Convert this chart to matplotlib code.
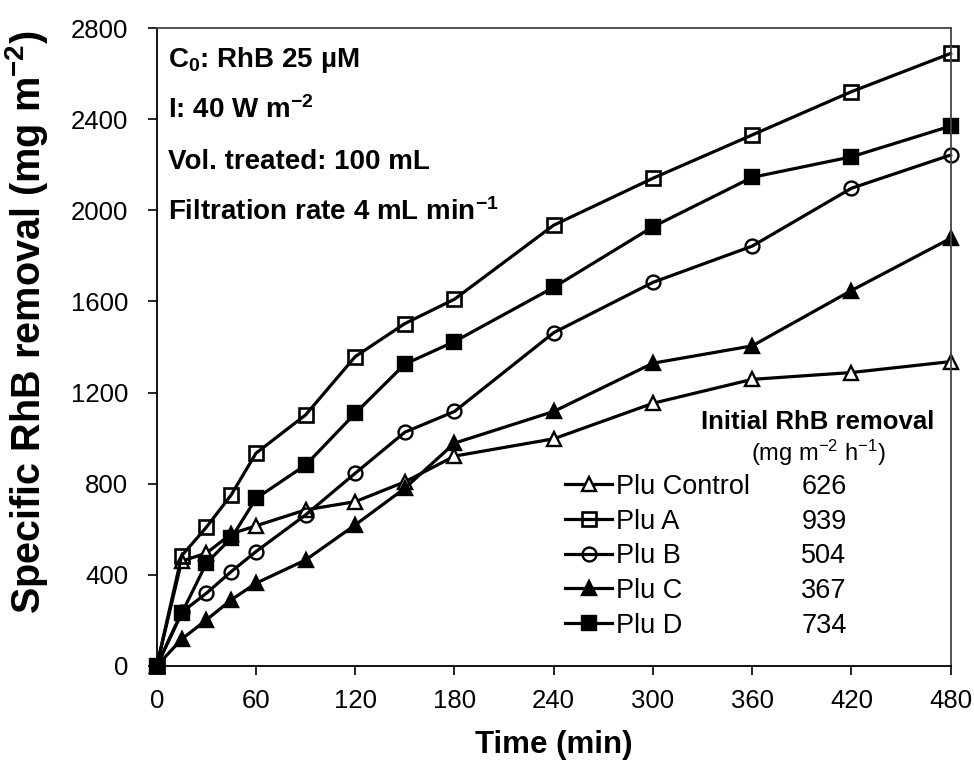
import numpy as np
import matplotlib
matplotlib.use("Agg")
import matplotlib.pyplot as plt

plt.rcParams['font.family'] = ['Liberation Sans', 'DejaVu Sans']
plt.rcParams['mathtext.fontset'] = 'custom'
plt.rcParams['mathtext.rm'] = 'Liberation Sans'
plt.rcParams['mathtext.bf'] = 'Liberation Sans:bold'
plt.rcParams['mathtext.it'] = 'Liberation Sans:italic'

# Czas [min]
time = [0, 15, 30, 45, 60, 90, 120, 150, 180, 240, 300, 360, 420, 480]

# Usuwanie RhB [mg m-2]
plu_control = [0, 460, 495, 580, 615, 685, 721, 808, 921, 997, 1153, 1258, 1288, 1336]
plu_a = [0, 483, 609, 751, 934, 1102, 1358, 1503, 1610, 1935, 2141, 2331, 2521, 2689]
plu_b = [0, 235, 319, 414, 502, 663, 846, 1026, 1117, 1463, 1684, 1843, 2097, 2243]
plu_c = [0, 117, 202, 290, 363, 465, 619, 780, 978, 1117, 1329, 1405, 1648, 1877]
plu_d = [0, 230, 451, 561, 735, 882, 1109, 1325, 1424, 1662, 1928, 2145, 2235, 2370]

labels = ["Plu Control", "Plu A", "Plu B", "Plu C", "Plu D"]
initial_rates = ["626", "939", "504", "367", "734"]

fig = plt.figure(figsize=(9.74, 7.61), dpi=100)
ax = fig.add_axes([0.161, 0.125, 0.815, 0.838])

lw = 2.3
ax.plot(time, plu_control, color='black', lw=lw, marker='^', ms=10.5, mfc='white',
        mec='black', mew=1.7, label=labels[0], clip_on=False)
ax.plot(time, plu_a, color='black', lw=lw, marker='s', ms=10, mfc='none',
        mec='black', mew=1.9, label=labels[1], clip_on=False)
ax.plot(time, plu_b, color='black', lw=lw, marker='o', ms=10, mfc='none',
        mec='black', mew=1.7, label=labels[2], clip_on=False)
ax.plot(time, plu_c, color='black', lw=lw, marker='^', ms=10.5, mfc='black',
        mec='black', mew=1.7, label=labels[3], clip_on=False)
ax.plot(time, plu_d, color='black', lw=lw, marker='s', ms=10.5, mfc='black',
        mec='black', mew=1.7, label=labels[4], clip_on=False)

ax.set_xlim(0, 480)
ax.set_ylim(0, 2800)
ax.set_xticks(np.arange(0, 481, 60))
ax.set_yticks(np.arange(0, 2801, 400))
ax.tick_params(direction='out', length=6.5, width=1.2, labelsize=18.5, color='black')
ax.tick_params(axis='x', pad=10.5)
ax.tick_params(axis='y', pad=14)
for side in ['left', 'bottom']:
    ax.spines[side].set_linewidth(1.3)
for side in ['top', 'right']:
    ax.spines[side].set_linewidth(1.3)
    ax.spines[side].set_color('#444444')

ax.set_xlabel("Time (min)", fontsize=22.5, fontweight='bold', labelpad=12)
ax.set_ylabel(r"Specific RhB removal (mg m$^{\mathbf{-2}}$)", fontsize=28.5, fontweight='bold')
ax.yaxis.set_label_coords(-0.135, 0.539)

# Warunki eksperymentu
info = [r"C$_{\mathbf{0}}$: RhB 25 µM",
        r"I: 40 W m$^{\mathbf{-2}}$",
        "Vol. treated: 100 mL",
        r"Filtration rate 4 mL min$^{\mathbf{-1}}$"]
info_y = [0.950, 0.871, 0.790, 0.712]
for s, y in zip(info, info_y):
    ax.text(0.0142, y, s, transform=ax.transAxes, fontsize=20, fontweight='bold',
            ha='left', va='center')

# Legenda
leg = ax.legend(loc='upper left', bbox_to_anchor=(0.514, 0.301), frameon=False,
                fontsize=19.5, handlelength=1.75, handletextpad=0.15,
                labelspacing=0.32, borderpad=0, borderaxespad=0)

ax.text(0.832, 0.383, "Initial RhB removal", transform=ax.transAxes,
        fontsize=18.5, fontweight='bold', ha='center', va='center')
ax.text(0.833, 0.334, r"(mg m$^{-2}$ h$^{-1}$)", transform=ax.transAxes,
        fontsize=17, ha='center', va='center')

fig.canvas.draw()
inv = ax.transAxes.inverted()
for t, val in zip(leg.get_texts(), initial_rates):
    bb = t.get_window_extent()
    yc = inv.transform((0, (bb.y0 + bb.y1) / 2))[1]
    ax.text(0.812, yc, val, transform=ax.transAxes, fontsize=19.5,
            ha='left', va='center')

fig.savefig("out.png", dpi=100)
